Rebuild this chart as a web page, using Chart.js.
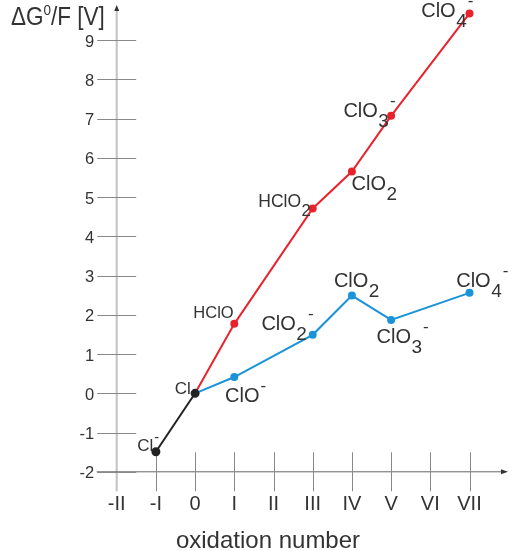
<!DOCTYPE html>
<html lang="en">
<head>
<meta charset="utf-8">
<title>Frost diagram of chlorine</title>
<script src="https://cdn.jsdelivr.net/npm/chart.js"></script>
<style>
  html, body { margin: 0; padding: 0; background: #fff; }
  #wrap { width: 512px; height: 551px; position: relative; }
</style>
</head>
<body>
<div id="wrap"><canvas id="frost"></canvas></div>
<script>
// oxidation numbers and their roman labels
const oxStates = [-2, -1, 0, 1, 2, 3, 4, 5, 6, 7];
const oxLabels = ['-II', '-I', '0', 'I', 'II', 'III', 'IV', 'V', 'VI', 'VII'];
const yTicks = [-2, -1, 0, 1, 2, 3, 4, 5, 6, 7, 8, 9];

// ΔG°/F in volts
const baseOx = [-1, 0];
const baseVals = [-1.49, 0];
const acidOx = [0, 1, 3, 4, 5, 7];
const acidVals = [0, 1.77, 4.71, 5.65, 7.07, 9.68];
const alkOx = [0, 1, 3, 4, 5, 7];
const alkVals = [0, 0.415, 1.49, 2.49, 1.87, 2.56];

// species names: [main, subscript, superscript]
const baseNames = [['Cl', '', '-'], ['Cl', '', '']];
const acidNames = [null, ['HClO', '', ''], ['HClO', '2', ''], ['ClO', '2', ''], ['ClO', '3', '-'], ['ClO', '4', '-']];
const alkNames = [null, ['ClO', '', '-'], ['ClO', '2', '-'], ['ClO', '2', ''], ['ClO', '3', '-'], ['ClO', '4', '-']];

const RED = '#e8232c', BLUE = '#1b93d8', BLACK = '#222';
const FONT = '"Liberation Sans", Arial, sans-serif';
const TXT = '#333';

// label placement: [dx, dy, size] relative to the point
const baseLay = [[-18.6, -0.7, 17], [-20.3, 1, 17]];
const acidLay = [null, [-41, -5.7, 16.5], [-54.4, -1.6, 17.5], [-0.3, 18.3, 20], [-47.7, 1, 20], [-48.3, 3.4, 20]];
const alkLay = [null, [-9.3, 24.7, 20], [-51.3, -4.7, 20], [-18, -9, 20], [-14.6, 23, 20], [-13.3, -6, 20]];

function pts(xs, ys) { return xs.map((x, i) => ({ x: x, y: ys[i] })); }

function formula(ctx, x, y, f, size) {
  ctx.font = size + 'px ' + FONT;
  ctx.textAlign = 'left';
  ctx.textBaseline = 'alphabetic';
  ctx.fillText(f[0], x, y);
  let cx = x + ctx.measureText(f[0]).width;
  if (f[1]) {
    ctx.font = (size * 0.95) + 'px ' + FONT;
    ctx.fillText(f[1], cx + 0.5, y + size * 0.5);
    cx += ctx.measureText(f[1]).width + 0.5;
  }
  if (f[2]) {
    ctx.font = (size * 0.85) + 'px ' + FONT;
    ctx.fillText(f[2], cx + 1, y - size * 0.55);
  }
}

const frostAxes = {
  id: 'frostAxes',
  beforeDatasetsDraw(chart) {
    const ctx = chart.ctx, xs = chart.scales.x, ys = chart.scales.y;
    const x0 = xs.getPixelForValue(-2), y0 = ys.getPixelForValue(-2);
    ctx.save();
    // y axis
    ctx.strokeStyle = '#c2c2c2'; ctx.lineWidth = 2;
    ctx.beginPath(); ctx.moveTo(x0, y0 + 19.5); ctx.lineTo(x0, 10); ctx.stroke();
    ctx.fillStyle = '#333';
    ctx.beginPath(); ctx.moveTo(x0, 5); ctx.lineTo(x0 - 2.5, 11); ctx.lineTo(x0 + 2.5, 11); ctx.closePath(); ctx.fill();
    // x axis
    ctx.strokeStyle = '#666'; ctx.lineWidth = 1;
    ctx.beginPath(); ctx.moveTo(x0 - 20, y0); ctx.lineTo(502, y0); ctx.stroke();
    ctx.beginPath(); ctx.moveTo(508, y0); ctx.lineTo(501, y0 - 2.5); ctx.lineTo(501, y0 + 2.5); ctx.closePath(); ctx.fill();
    // ticks
    ctx.strokeStyle = '#888';
    yTicks.forEach(v => {
      const p = Math.round(ys.getPixelForValue(v)) + 0.5;
      ctx.beginPath(); ctx.moveTo(x0 - 19.5, p); ctx.lineTo(x0 + 19.5, p); ctx.stroke();
    });
    oxStates.forEach(v => {
      if (v === -2) return;
      const p = Math.round(xs.getPixelForValue(v)) + 0.5;
      ctx.beginPath(); ctx.moveTo(p, y0 - 19.5); ctx.lineTo(p, y0 + 19.5); ctx.stroke();
    });
    // tick labels
    ctx.fillStyle = TXT;
    ctx.font = '16.5px ' + FONT; ctx.textAlign = 'right'; ctx.textBaseline = 'alphabetic';
    yTicks.forEach(v => ctx.fillText(String(v), x0 - 22.5, ys.getPixelForValue(v) + 6.5));
    ctx.font = '20px ' + FONT; ctx.textAlign = 'center';
    oxStates.forEach((v, i) => ctx.fillText(oxLabels[i], xs.getPixelForValue(v), 510));
    // axis titles
    ctx.font = '24px ' + FONT; ctx.textAlign = 'center';
    ctx.fillText('oxidation number', 268, 548);
    // y title, slightly condensed like the original
    ctx.save();
    ctx.translate(11, 0);
    ctx.scale(0.9, 1);
    ctx.textAlign = 'left';
    ctx.font = '25px ' + FONT;
    ctx.fillText('ΔG', 0, 24.5);
    let tx = ctx.measureText('ΔG').width;
    ctx.font = '15px ' + FONT;
    ctx.fillText('0', tx, 15);
    tx += ctx.measureText('0').width;
    ctx.font = '25px ' + FONT;
    ctx.fillText('/F [V]', tx, 24.5);
    ctx.restore();
    ctx.restore();
  },
  afterDatasetsDraw(chart) {
    const ctx = chart.ctx, xs = chart.scales.x, ys = chart.scales.y;
    ctx.save();
    ctx.fillStyle = TXT;
    const groups = [[baseOx, baseVals, baseNames, baseLay], [acidOx, acidVals, acidNames, acidLay], [alkOx, alkVals, alkNames, alkLay]];
    groups.forEach(g => {
      g[0].forEach((ox, i) => {
        if (!g[2][i]) return;
        const px = xs.getPixelForValue(ox), py = ys.getPixelForValue(g[1][i]);
        const l = g[3][i];
        formula(ctx, px + l[0], py + l[1], g[2][i], l[2]);
      });
    });
    ctx.restore();
  }
};

new Chart(document.getElementById('frost'), {
  type: 'line',
  data: {
    datasets: [
      { data: pts(baseOx, baseVals), borderColor: BLACK, backgroundColor: BLACK, borderWidth: 2, pointRadius: 3.5, clip: false },
      { data: pts(acidOx, acidVals), borderColor: RED, backgroundColor: RED, borderWidth: 2, pointRadius: [0, 3, 3, 3, 3, 3], clip: false },
      { data: pts(alkOx, alkVals), borderColor: BLUE, backgroundColor: BLUE, borderWidth: 2, pointRadius: [0, 3, 3, 3, 3, 3], clip: false }
    ]
  },
  options: {
    responsive: true,
    maintainAspectRatio: false,
    animation: false,
    layout: { autoPadding: false, padding: { left: 97.1, right: 3.3, top: 2.8, bottom: 47.8 } },
    plugins: { legend: { display: false }, tooltip: { enabled: false } },
    elements: { line: { tension: 0 }, point: { borderWidth: 0 } },
    scales: {
      x: { type: 'linear', min: -2.5, max: 8, display: false },
      y: { type: 'linear', min: -2.8, max: 9.95, display: false }
    }
  },
  plugins: [frostAxes]
});
</script>
</body>
</html>
